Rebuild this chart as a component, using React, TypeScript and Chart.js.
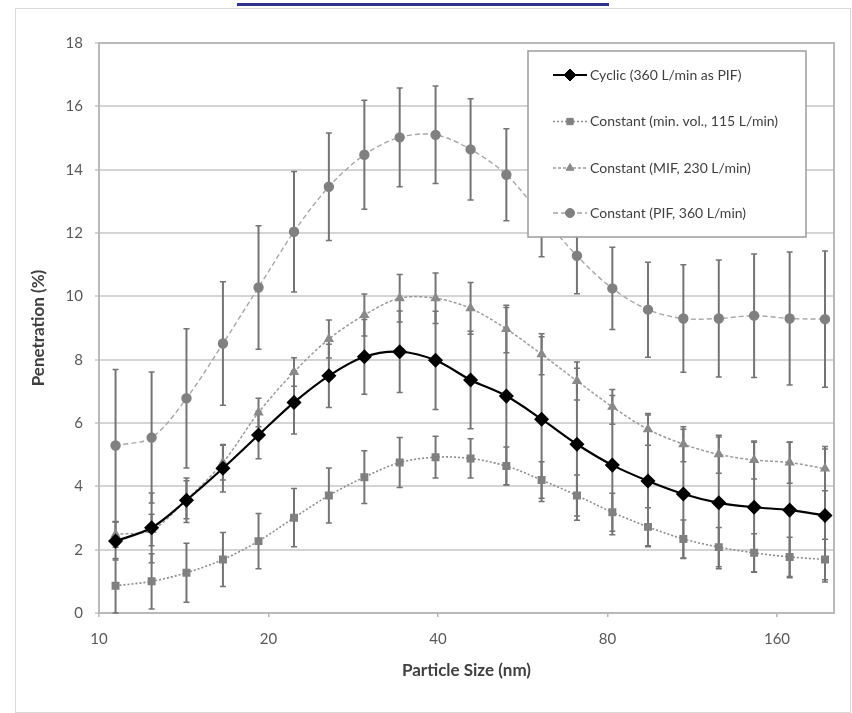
import { useEffect, useRef } from "react";
import { Chart, registerables } from "chart.js";
import { drawPoint } from "chart.js/helpers";

Chart.register(...registerables);

// Particle size channels (nm), log-spaced
const particleSizes = [
  10.7, 12.4, 14.3, 16.6, 19.2, 22.2, 25.6, 29.6, 34.2, 39.6, 45.7,
  52.9, 61.1, 70.6, 81.6, 94.4, 109.1, 126.1, 145.7, 168.5, 194.7,
];

// Penetration (%) per breathing condition, with ± error
const cyclic = [
  2.27, 2.69, 3.56, 4.57, 5.62, 6.65, 7.49, 8.09, 8.25, 7.98, 7.36,
  6.85, 6.12, 5.33, 4.67, 4.17, 3.76, 3.48, 3.34, 3.25, 3.08,
];
const cyclicErr = [
  0.6, 1.1, 0.7, 0.75, 0.75, 1.0, 1.0, 1.18, 1.29, 1.55, 1.54,
  2.8, 2.6, 2.4, 2.2, 2.08, 2.04, 2.08, 2.05, 2.14, 2.1,
];

const minVol = [
  0.86, 1.0, 1.27, 1.69, 2.27, 3.01, 3.71, 4.29, 4.75, 4.92, 4.88,
  4.64, 4.2, 3.71, 3.18, 2.72, 2.34, 2.08, 1.9, 1.77, 1.69,
];
const minVolErr = [
  0.86, 0.87, 0.93, 0.85, 0.87, 0.92, 0.87, 0.83, 0.79, 0.66, 0.62,
  0.6, 0.58, 0.65, 0.6, 0.6, 0.6, 0.62, 0.6, 0.62, 0.64,
];

const mif = [
  2.48, 2.62, 3.58, 4.75, 6.33, 7.61, 8.65, 9.41, 9.94, 9.94, 9.62,
  8.97, 8.17, 7.33, 6.51, 5.8, 5.33, 5.01, 4.83, 4.75, 4.56,
];
const mifErr = [
  0.4, 0.5, 0.6, 0.55, 0.45, 0.45, 0.6, 0.66, 0.75, 0.8, 0.82,
  0.75, 0.65, 0.6, 0.55, 0.5, 0.55, 0.6, 0.6, 0.65, 0.7,
];

const pif = [
  5.29, 5.54, 6.78, 8.51, 10.28, 12.04, 13.46, 14.47, 15.02, 15.1, 14.64,
  13.84, 12.55, 11.28, 10.25, 9.58, 9.3, 9.3, 9.39, 9.3, 9.28,
];
const pifErr = [
  2.4, 2.07, 2.2, 1.95, 1.95, 1.9, 1.7, 1.72, 1.56, 1.54, 1.6,
  1.45, 1.3, 1.2, 1.3, 1.5, 1.7, 1.85, 1.95, 2.1, 2.15,
];

const seriesNames = [
  "Cyclic (360 L/min as PIF)",
  "Constant (min. vol., 115 L/min)",
  "Constant (MIF, 230 L/min)",
  "Constant (PIF, 360 L/min)",
];

const xTickValues = [10, 20, 40, 80, 160];
const xMin = 10;
const xMax = 202;
const yMin = 0;
const yMax = 18;
const yStep = 2;

const FONT = "Lato, 'Open Sans', sans-serif";

const toPoints = (ys: number[]) => ys.map((y, i) => ({ x: particleSizes[i], y }));

// Vertical error bars with caps, drawn beneath the lines and markers
const errorBarPlugin = {
  id: "errorBars",
  beforeDatasetsDraw(chart: any) {
    const { ctx, scales } = chart;
    const x = scales.x;
    const y = scales.y;
    ctx.save();
    chart.data.datasets.forEach((ds: any) => {
      const errs: number[] | undefined = ds.errorBars;
      if (!errs) return;
      ds.data.forEach((pt: any, i: number) => {
        const px = x.getPixelForValue(pt.x);
        const top = y.getPixelForValue(Math.min(yMax, pt.y + errs[i]));
        const bot = y.getPixelForValue(Math.max(yMin, pt.y - errs[i]));
        ctx.strokeStyle = "#747474";
        ctx.lineWidth = 2;
        ctx.beginPath();
        ctx.moveTo(px, top);
        ctx.lineTo(px, bot);
        ctx.stroke();
        ctx.lineWidth = 1.5;
        ctx.beginPath();
        ctx.moveTo(px - 3, top);
        ctx.lineTo(px + 3, top);
        ctx.moveTo(px - 3, bot);
        ctx.lineTo(px + 3, bot);
        ctx.stroke();
      });
    });
    ctx.restore();
  },
};

// Border round the plot area
const plotFramePlugin = {
  id: "plotFrame",
  beforeDatasetsDraw(chart: any) {
    const { ctx, chartArea } = chart;
    ctx.save();
    ctx.strokeStyle = "#b9b9b9";
    ctx.lineWidth = 2;
    ctx.strokeRect(
      chartArea.left,
      chartArea.top,
      chartArea.right - chartArea.left,
      chartArea.bottom - chartArea.top
    );
    ctx.restore();
  },
};

// Boxed legend in the upper right of the plot
const boxLegendPlugin = {
  id: "boxLegend",
  afterDraw(chart: any) {
    const { ctx, chartArea } = chart;
    const bx = chartArea.right - 306;
    const by = chartArea.top + 8;
    const bw = 278;
    const bh = 186;
    ctx.save();
    ctx.fillStyle = "#ffffff";
    ctx.fillRect(bx, by, bw, bh);
    ctx.strokeStyle = "#9c9c9c";
    ctx.lineWidth = 1.5;
    ctx.strokeRect(bx, by, bw, bh);

    const rowY = [24, 70.5, 117, 162];
    chart.data.datasets.forEach((ds: any, i: number) => {
      const cy = by + rowY[i];
      const lx0 = bx + 25;
      const lx1 = bx + 59;
      ctx.strokeStyle = ds.borderColor;
      ctx.lineWidth = ds.borderWidth;
      ctx.setLineDash(ds.borderDash || []);
      ctx.beginPath();
      ctx.moveTo(lx0, cy);
      ctx.lineTo(lx1, cy);
      ctx.stroke();
      ctx.setLineDash([]);
      ctx.fillStyle = ds.pointBackgroundColor;
      ctx.strokeStyle = ds.pointBorderColor;
      ctx.lineWidth = 1;
      drawPoint(
        ctx,
        { pointStyle: ds.pointStyle, radius: ds.pointRadius, rotation: 0, borderWidth: 1 },
        (lx0 + lx1) / 2,
        cy
      );
      ctx.fillStyle = "#3f3f3f";
      ctx.font = `14px ${FONT}`;
      ctx.textBaseline = "middle";
      ctx.textAlign = "left";
      ctx.fillText(ds.label, lx1 + 3, cy);
    });
    ctx.restore();
  },
};

export default function App() {
  const canvasRef = useRef<HTMLCanvasElement | null>(null);

  useEffect(() => {
    const canvas = canvasRef.current;
    if (!canvas) return;

    const chart = new Chart(canvas, {
      type: "line",
      data: {
        datasets: [
          {
            label: seriesNames[0],
            data: toPoints(cyclic),
            errorBars: cyclicErr,
            borderColor: "#000000",
            borderWidth: 2.2,
            pointStyle: "rectRot",
            pointRadius: 6,
            pointBackgroundColor: "#000000",
            pointBorderColor: "#000000",
            tension: 0.33,
          },
          {
            label: seriesNames[1],
            data: toPoints(minVol),
            errorBars: minVolErr,
            borderColor: "#8c8c8c",
            borderWidth: 1.6,
            borderDash: [2, 2],
            pointStyle: "rect",
            pointRadius: 4.5,
            pointBackgroundColor: "#808080",
            pointBorderColor: "#808080",
            tension: 0.33,
          },
          {
            label: seriesNames[2],
            data: toPoints(mif),
            errorBars: mifErr,
            borderColor: "#9a9a9a",
            borderWidth: 1.5,
            borderDash: [3, 2],
            pointStyle: "triangle",
            pointRadius: 4.5,
            pointBackgroundColor: "#8a8a8a",
            pointBorderColor: "#8a8a8a",
            tension: 0.33,
          },
          {
            label: seriesNames[3],
            data: toPoints(pif),
            errorBars: pifErr,
            borderColor: "#a6a6a6",
            borderWidth: 1.4,
            borderDash: [5, 3],
            pointStyle: "circle",
            pointRadius: 4.5,
            pointBackgroundColor: "#808080",
            pointBorderColor: "#808080",
            tension: 0.33,
          },
        ] as any,
      },
      options: {
        animation: false,
        responsive: false,
        devicePixelRatio: 1,
        layout: { padding: { left: 28, top: 43, right: 18, bottom: 32 } },
        plugins: {
          legend: { display: false },
          tooltip: { enabled: false },
        },
        scales: {
          x: {
            type: "logarithmic",
            min: xMin,
            max: xMax,
            afterBuildTicks: (scale: any) => {
              scale.ticks = xTickValues.map((v) => ({ value: v }));
            },
            afterFit: (scale: any) => {
              scale.height = 68;
            },
            grid: {
              drawOnChartArea: false,
              tickLength: 4,
              color: "#b5b5b5",
              lineWidth: 1.5,
            },
            border: { display: false },
            ticks: {
              autoSkip: false,
              maxRotation: 0,
              padding: 13,
              color: "#595959",
              font: { family: FONT, size: 15 },
              callback: (v: any) => String(v),
            },
            title: {
              display: true,
              text: "Particle Size (nm)",
              color: "#404040",
              padding: 0,
              font: { family: FONT, size: 17, weight: "bold" },
            },
          },
          y: {
            type: "linear",
            min: yMin,
            max: yMax,
            afterFit: (scale: any) => {
              scale.width = 71;
            },
            grid: {
              color: "#d4d4d4",
              lineWidth: 2,
              tickLength: 4,
            },
            border: { display: false },
            ticks: {
              stepSize: yStep,
              padding: 12,
              color: "#595959",
              font: { family: FONT, size: 15 },
            },
            title: {
              display: true,
              text: "Penetration (%)",
              color: "#404040",
              padding: 0,
              font: { family: FONT, size: 17, weight: "bold" },
            },
          },
        },
      } as any,
      plugins: [plotFramePlugin, errorBarPlugin, boxLegendPlugin],
    });

    return () => chart.destroy();
  }, []);

  return (
    <div
      style={{
        position: "absolute",
        left: 0,
        top: 0,
        width: 852,
        height: 713,
        overflow: "hidden",
        background: "#ffffff",
      }}
    >
      <div
        style={{
          position: "absolute",
          left: 237,
          top: 3,
          width: 372,
          height: 3,
          background: "#2e3192",
        }}
      />
      <div
        style={{
          position: "absolute",
          left: 15,
          top: 8,
          width: 834,
          height: 703,
          border: "1px solid #d9d9d9",
        }}
      />
      <canvas
        ref={canvasRef}
        width={852}
        height={713}
        style={{ position: "absolute", left: 0, top: 0 }}
      />
    </div>
  );
}
